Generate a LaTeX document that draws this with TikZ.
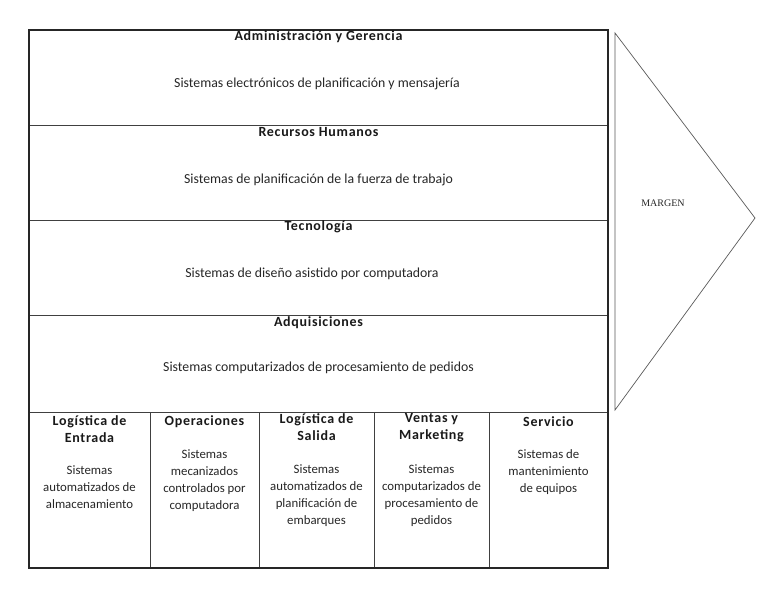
\documentclass[tikz,border=0pt]{standalone}
\usepackage{fontspec}
\setmainfont{Carlito}
\newfontfamily\capserif{Liberation Serif}
\newfontfamily\headfont[LetterSpace=5]{Carlito}
\begin{document}
\begin{tikzpicture}[x=1pt,y=-1pt,
  frame/.style={line width=1.6pt, draw=black!85},
  divider/.style={line width=0.9pt, draw=black!75},
  head/.style={font=\headfont\fontsize{14}{17}\selectfont\bfseries, align=center, inner sep=0pt, text=black!90},
  body/.style={font=\fontsize{13.8}{17}\selectfont, align=center, inner sep=0pt, text=black!85},
  cbody/.style={font=\fontsize{12.8}{17}\selectfont, align=center, inner sep=0pt, text=black!85},
  wedge/.style={draw=black!65, line width=0.7pt, line join=miter}
]
\useasboundingbox (0,0) rectangle (765,590);

% corners of the value chain frame
\coordinate (nw) at (29,30);
\coordinate (se) at (608,568);

% support activity bands
\foreach \y in {125,220,315,412}
  \draw[divider] (29,\y) -- (608,\y);
% primary activity columns
\foreach \x in {150,259,374,489}
  \draw[divider] (\x,412) -- (\x,568);

\draw[frame] (nw) rectangle (se);

% margin wedge
\coordinate (mtop) at (615,33);
\coordinate (mtip) at (755,218);
\coordinate (mbot) at (615,410);
\draw[wedge] (mtop) -- (mtip) -- (mbot) -- cycle;
\node[font=\capserif\fontsize{10}{12}\selectfont, text=black!85] (margen) at (663,203) {MARGEN};

% support activities
\node[head] (admh) at (318.5,37) {Administración y Gerencia};
\node[body] (admb) at (317,84) {Sistemas electrónicos de planificación y mensajería};
\node[head] (rhh) at (318.5,132) {Recursos Humanos};
\node[body] (rhb) at (318.5,180) {Sistemas de planificación de la fuerza de trabajo};
\node[head] (tech) at (318.5,227) {Tecnología};
\node[body] (tecb) at (312,274) {Sistemas de diseño asistido por computadora};
\node[head] (adqh) at (318.5,323) {Adquisiciones};
\node[body] (adqb) at (318.5,368) {Sistemas computarizados de procesamiento de pedidos};

% primary activities
\node[head] (c1h) at (89.5,429.5) {Logística de\\Entrada};
\node[cbody] (c1b) at (89.5,487) {Sistemas\\automatizados de\\almacenamiento};
\node[head] (c2h) at (204.5,422) {Operaciones};
\node[cbody] (c2b) at (204.5,480.5) {Sistemas\\mecanizados\\controlados por\\computadora};
\node[head] (c3h) at (316.5,427.5) {Logística de\\Salida};
\node[cbody] (c3b) at (316.5,495.5) {Sistemas\\automatizados de\\planificación de\\embarques};
\node[head] (c4h) at (431.5,427.5) {Ventas y\\Marketing};
\node[cbody] (c4b) at (431.5,495.5) {Sistemas\\computarizados de\\procesamiento de\\pedidos};
\node[head] (c5h) at (548.5,422) {Servicio};
\node[cbody] (c5b) at (548.5,472) {Sistemas de\\mantenimiento\\de equipos};
\end{tikzpicture}
\end{document}
